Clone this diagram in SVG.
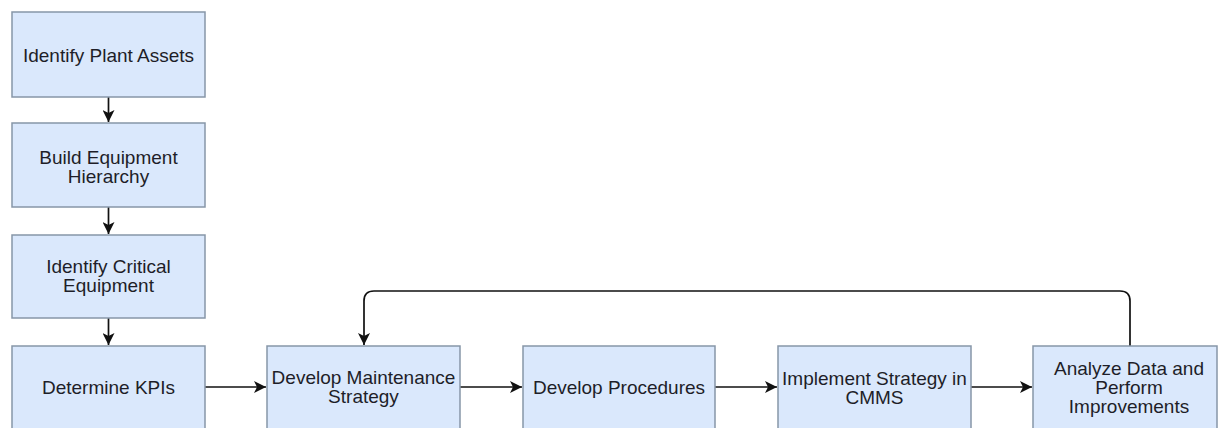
<svg xmlns="http://www.w3.org/2000/svg" width="1220" height="428" viewBox="0 0 1220 428">
<defs>
<style>
.box{fill:#dae8fc;stroke:#8796a8;stroke-width:1.5}
.lbl{font-family:"Liberation Sans",Arial,sans-serif;font-size:19px;fill:#1e1e28;text-anchor:middle}
.conn{fill:none;stroke:#111;stroke-width:1.7}
</style>
<marker id="ah" viewBox="0 0 12 12" refX="12" refY="6" markerWidth="12" markerHeight="12" markerUnits="userSpaceOnUse" orient="auto">
<path d="M0,0 L12,6 L0,12 L3,6 Z" fill="#111"/>
</marker>
</defs>
<rect width="1220" height="428" fill="#ffffff"/>
<g id="connectors">
<path class="conn" d="M108.5,97 V122" marker-end="url(#ah)"/>
<path class="conn" d="M108.5,207 V234" marker-end="url(#ah)"/>
<path class="conn" d="M108.5,318 V345" marker-end="url(#ah)"/>
<path class="conn" d="M205,387 H266" marker-end="url(#ah)"/>
<path class="conn" d="M460,387 H522" marker-end="url(#ah)"/>
<path class="conn" d="M715,387 H777" marker-end="url(#ah)"/>
<path class="conn" d="M971,387 H1032" marker-end="url(#ah)"/>
<path class="conn" d="M1130,346 V301 Q1130,291 1120,291 H374 Q364,291 364,301 V345" marker-end="url(#ah)"/>
</g>
<g id="n1"><rect class="box" x="12" y="12" width="193" height="85"/><text class="lbl" x="108.5" y="62">Identify Plant Assets</text></g>
<g id="n2"><rect class="box" x="12" y="123" width="193" height="84"/><text class="lbl" x="108.5" y="164">Build Equipment</text><text class="lbl" x="108.5" y="183">Hierarchy</text></g>
<g id="n3"><rect class="box" x="12" y="235" width="193" height="83"/><text class="lbl" x="108.5" y="273">Identify Critical</text><text class="lbl" x="108.5" y="292">Equipment</text></g>
<g id="n4"><rect class="box" x="12" y="346" width="193" height="86"/><text class="lbl" x="108.5" y="394">Determine KPIs</text></g>
<g id="n5"><rect class="box" x="267" y="346" width="193" height="86"/><text class="lbl" x="363.5" y="384">Develop Maintenance</text><text class="lbl" x="363.5" y="403">Strategy</text></g>
<g id="n6"><rect class="box" x="523" y="346" width="192" height="86"/><text class="lbl" x="619" y="394">Develop Procedures</text></g>
<g id="n7"><rect class="box" x="778" y="346" width="193" height="86"/><text class="lbl" x="874.5" y="385">Implement Strategy in</text><text class="lbl" x="874.5" y="404">CMMS</text></g>
<g id="n8"><rect class="box" x="1033" y="346" width="184" height="86"/><text class="lbl" x="1129" y="375">Analyze Data and</text><text class="lbl" x="1129" y="394">Perform</text><text class="lbl" x="1129" y="413">Improvements</text></g>
</svg>
